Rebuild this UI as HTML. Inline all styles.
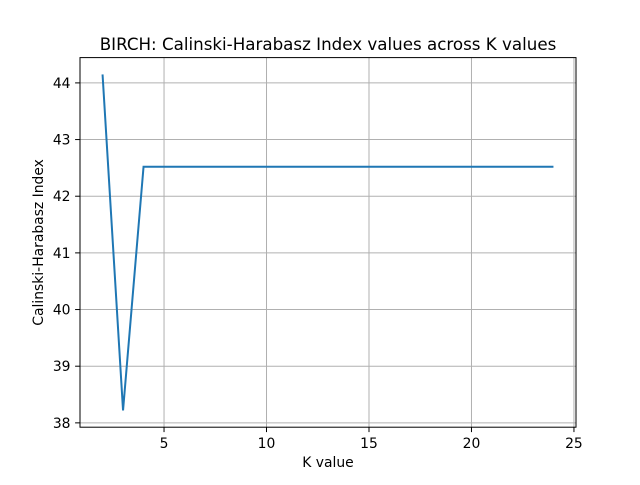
<!DOCTYPE html>
<html><head><meta charset="utf-8"><style>
body{margin:0;background:#fff;}
svg text{font-family:"DejaVu Sans","Liberation Sans",sans-serif;fill:#000;}
</style></head><body>
<svg id="chart" width="640" height="480" xmlns="http://www.w3.org/2000/svg">
<rect width="640" height="480" fill="#fff"/>
<g id="grid"></g>
<g id="ticks"></g>
<path id="line" fill="none" stroke="#1f77b4" stroke-width="2"/>
<rect x="80" y="57.6" width="496" height="369.6" fill="none" stroke="#000" stroke-width="1"/>
<text x="328" y="50" text-anchor="middle" font-size="16.7">BIRCH: Calinski-Harabasz Index values across K values</text>
<text x="328" y="467" text-anchor="middle" font-size="13.9">K value</text>
<text x="0" y="0" transform="translate(43,242.4) rotate(-90)" text-anchor="middle" font-size="13.9">Calinski-Harabasz Index</text>
</svg>
<script>
const kValues=[2,3,4,5,6,7,8,9,10,11,12,13,14,15,16,17,18,19,20,21,22,23,24];
const chValues=[44.15,38.22,42.52,42.52,42.52,42.52,42.52,42.52,42.52,42.52,42.52,42.52,42.52,42.52,42.52,42.52,42.52,42.52,42.52,42.52,42.52,42.52,42.52];
const xTicks=[5,10,15,20,25];
const yTicks=[38,39,40,41,42,43,44];
const L=80,R=576,T=57.6,B=427.2;
const xmin0=Math.min(...kValues),xmax0=Math.max(...kValues);
const ymin0=Math.min(...chValues),ymax0=Math.max(...chValues);
const xm=(xmax0-xmin0)*0.05,ym=(ymax0-ymin0)*0.05;
const xmin=xmin0-xm,xmax=xmax0+xm,ymin=ymin0-ym,ymax=ymax0+ym;
const sx=v=>L+(v-xmin)/(xmax-xmin)*(R-L);
const sy=v=>B-(v-ymin)/(ymax-ymin)*(B-T);
const NS="http://www.w3.org/2000/svg";
const grid=document.getElementById('grid'),ticks=document.getElementById('ticks');
function mk(tag,attrs,parent){const e=document.createElementNS(NS,tag);for(const k in attrs)e.setAttribute(k,attrs[k]);parent.appendChild(e);return e;}
xTicks.forEach(t=>{const x=sx(t);
 const g=mk('line',{x1:x,x2:x,y1:T,y2:B,stroke:'#b0b0b0','stroke-width':1},grid);
 
 
 const tk=mk('line',{x1:x,x2:x,y1:B,y2:B+4.9,stroke:'#000','stroke-width':1},ticks);
 
 
 const tx=mk('text',{x:x,y:B+21,'text-anchor':'middle','font-size':13.9},ticks);tx.textContent=t;
 
 
});
yTicks.forEach(t=>{const y=sy(t);
 const g=mk('line',{x1:L,x2:R,y1:y,y2:y,stroke:'#b0b0b0','stroke-width':1},grid);
 
 
 const tk=mk('line',{x1:L-4.9,x2:L,y1:y,y2:y,stroke:'#000','stroke-width':1},ticks);
 
 
 const tx=mk('text',{x:L-9.5,y:y+5,'text-anchor':'end','font-size':13.9},ticks);tx.textContent=t;
 
 
});
document.getElementById('line').setAttribute('d',kValues.map((k,i)=>(i?'L':'M')+sx(k).toFixed(2)+','+sy(chValues[i]).toFixed(2)).join(''));
</script>
</body></html>
